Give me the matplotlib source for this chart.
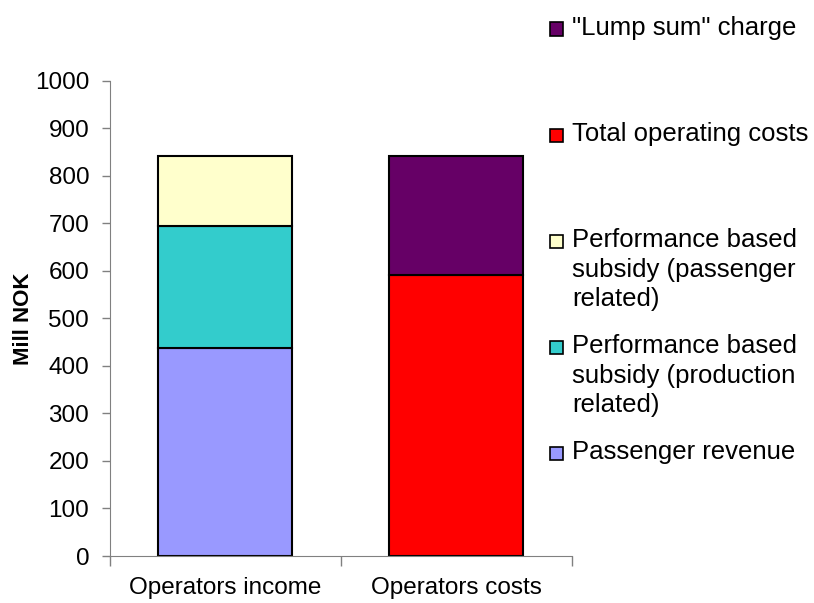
import matplotlib.pyplot as plt
from matplotlib.patches import Rectangle

plt.rcParams['font.family'] = ['Liberation Sans', 'DejaVu Sans']

categories = ['Operators income', 'Operators costs']
passenger_revenue = [437, 0]
subsidy_production = [256, 0]
subsidy_passenger = [148, 0]
operating_costs = [0, 592]
lump_sum = [0, 249]

colores = {'lump': '#660066', 'cost': '#ff0000', 'pass': '#ffffcc',
           'prod': '#33cccc', 'rev': '#9999ff'}

fig = plt.figure(figsize=(8.14, 6.03), dpi=100)
ax = fig.add_axes([0.1351, 0.0779, 0.5676, 0.7886])

x = [0, 1]
w = 0.58
kw = dict(width=w, edgecolor='black', linewidth=1.5)
ax.bar(x, passenger_revenue, color=colores['rev'], **kw)
b1 = [a for a in passenger_revenue]
ax.bar(x, subsidy_production, bottom=b1, color=colores['prod'], **kw)
b2 = [a + b for a, b in zip(b1, subsidy_production)]
ax.bar(x, subsidy_passenger, bottom=b2, color=colores['pass'], **kw)
ax.bar(x, operating_costs, color=colores['cost'], **kw)
ax.bar(x, lump_sum, bottom=operating_costs, color=colores['lump'], **kw)

# hide zero-height parts on the wrong column
for p in ax.patches:
    if p.get_height() == 0:
        p.set_visible(False)

ax.set_xlim(-0.5, 1.5)
ax.set_ylim(0, 1000)
ax.set_yticks(range(0, 1001, 100))
ax.set_xticks([-0.5, 0.5, 1.5])
ax.set_xticklabels([])
ax.set_xticks(x, minor=True)
ax.set_xticklabels(categories, minor=True, fontsize=17.5)
ax.tick_params(axis='x', which='minor', length=0, pad=15)
ax.tick_params(axis='x', which='major', length=7, color='#808080', width=1)
ax.tick_params(axis='y', length=6, color='#808080', width=1, labelsize=17.5, pad=9)
for s in ['top', 'right']:
    ax.spines[s].set_visible(False)
for s in ['left', 'bottom']:
    ax.spines[s].set_color('#808080')
ax.set_ylabel('Mill NOK', fontsize=16, fontweight='bold')
ax.yaxis.set_label_coords(-0.165, 0.5)

legend = [
    ('"Lump sum" charge', colores['lump'], 29),
    ('Total operating costs', colores['cost'], 135),
    ('Performance based\nsubsidy (passenger\nrelated)', colores['pass'], 241),
    ('Performance based\nsubsidy (production\nrelated)', colores['prod'], 347),
    ('Passenger revenue', colores['rev'], 453),
]
W, H = 814, 603
for txt, c, yc in legend:
    sq = 13
    fig.add_artist(Rectangle(((550) / W, (H - yc - sq / 2) / H), sq / W, sq / H,
                             facecolor=c, edgecolor='black', linewidth=1.2,
                             transform=fig.transFigure))
    fig.text(572 / W, (H - yc + 13) / H, txt, fontsize=18.5, va='top', ha='left',
             linespacing=1.3)

fig.savefig('out.png', dpi=100)
